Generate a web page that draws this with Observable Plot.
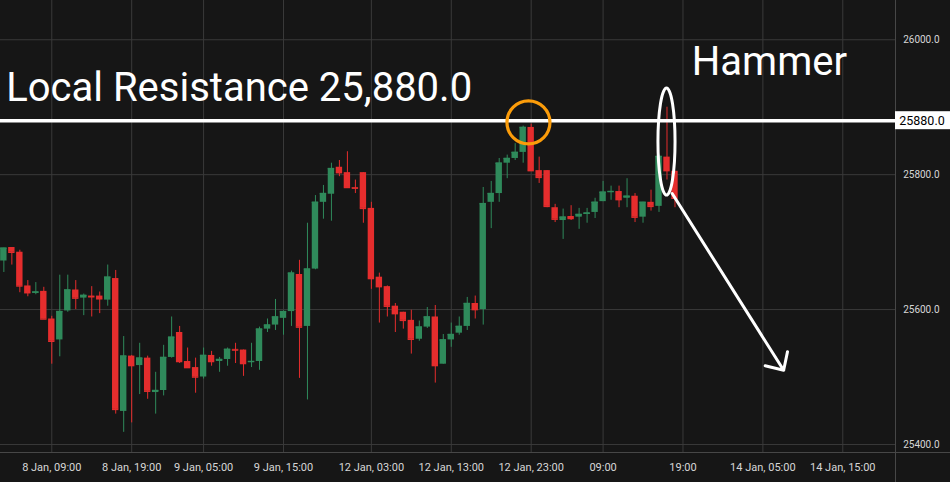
<!DOCTYPE html>
<html><head><meta charset="utf-8">
<script src="https://cdn.jsdelivr.net/npm/d3@7"></script>
<script src="https://cdn.jsdelivr.net/npm/@observablehq/plot@0.6"></script>
<style>
html,body{margin:0;padding:0;background:#161616;overflow:hidden;}
svg{display:block;}
</style></head><body><div id="chart"></div>
<script>
// Hourly candles (index 0 = first bar on 8 Jan)
const opens  = [25672,25692,25685,25635,25624,25627,25586,25555,25598,25629,25617,25620,25620,25614,25646,25449,25531,25517,25528,25477,25480,25529,25566,25523,25514,25500,25532,25523,25526,25541,25540,25522,25523,25571,25577,25587,25597,25652,25575,25660,25759,25771,25811,25803,25781,25803,25750,25648,25634,25605,25596,25584,25556,25574,25589,25519,25555,25565,25575,25609,25600,25759,25772,25817,25824,25833,25870,25806,25806,25751,25732,25738,25737,25741,25744,25760,25774,25775,25765,25768,25737,25759,25753,25826,25805];
const highs  = [25691,25692,25688,25643,25640,25633,25590,25651,25651,25643,25623,25634,25626,25666,25658,25560,25532,25550,25531,25507,25547,25589,25575,25543,25528,25543,25538,25529,25543,25550,25540,25550,25574,25586,25615,25598,25657,25673,25728,25769,25784,25817,25821,25834,25792,25803,25759,25654,25635,25609,25596,25599,25583,25603,25606,25563,25580,25589,25618,25620,25781,25790,25824,25829,25846,25872,25875,25826,25806,25756,25749,25754,25750,25750,25765,25790,25783,25783,25794,25772,25759,25777,25829,25900,25805];
const lows   = [25655,25666,25625,25619,25622,25586,25519,25530,25596,25600,25591,25589,25594,25605,25445,25418,25432,25474,25467,25445,25472,25528,25520,25513,25476,25497,25516,25507,25516,25520,25501,25514,25510,25566,25569,25562,25575,25498,25466,25659,25734,25731,25797,25780,25772,25728,25630,25580,25589,25566,25571,25534,25553,25572,25491,25519,25544,25562,25569,25586,25577,25720,25759,25794,25821,25817,25806,25787,25751,25729,25704,25732,25719,25728,25735,25760,25762,25751,25751,25729,25728,25746,25744,25792,25751];
const closes = [25691,25685,25635,25625,25626,25586,25553,25597,25629,25617,25621,25619,25616,25648,25452,25531,25517,25528,25479,25480,25529,25559,25523,25514,25500,25532,25523,25526,25541,25540,25520,25523,25571,25577,25589,25597,25654,25574,25660,25759,25772,25809,25803,25781,25780,25750,25646,25634,25605,25594,25584,25556,25574,25589,25517,25555,25563,25575,25609,25600,25757,25772,25817,25824,25833,25870,25806,25796,25753,25734,25737,25735,25741,25743,25759,25774,25775,25763,25768,25737,25759,25753,25827,25806,25765];

// Time axis (bar index -> label)
const xTickIndex  = [6, 16, 25, 35, 46, 56, 66, 75, 85, 95, 105];
const xTickLabels = ["8 Jan, 09:00","8 Jan, 19:00","9 Jan, 05:00","9 Jan, 15:00","12 Jan, 03:00","12 Jan, 13:00","12 Jan, 23:00","09:00","19:00","14 Jan, 05:00","14 Jan, 15:00"];
const yTicks = [25400, 25600, 25800, 26000];

// Annotations (data coordinates)
const resistance = 25880;
const titleText  = ["Local Resistance 25,880.0"];
const titleX = [0.3], titleY = [25909];
const hammerText = ["Hammer"];
const hammerX = [86.1], hammerY = [25948];
const circleX = [65.66], circleY = [25877.5];
const hammerIndex = 83, hammerSpan = [25769, 25927.6], hammerHalfWidth = 1.07;
const arrowFrom = [83.65, 25772], arrowTo = [97.6, 25510];

const UP = "#2f8a5b", DOWN = "#e52d2d";
const candles = opens.map((o, i) => ({i, open: o, high: highs[i], low: lows[i], close: closes[i], color: closes[i] >= o ? UP : DOWN}));
const labelMap = new Map(xTickIndex.map((d, k) => [d, xTickLabels[k]]));

const chrome = (index, scales, values, dims) => {
  const g = d3.create("svg:g").attr("stroke", "#474747").attr("fill", "none");
  const right = dims.width - dims.marginRight, bottom = dims.height - dims.marginBottom;
  g.append("line").attr("x1", 0).attr("x2", dims.width).attr("y1", bottom + 0.5).attr("y2", bottom + 0.5);
  g.append("line").attr("x1", right + 0.5).attr("x2", right + 0.5).attr("y1", 0).attr("y2", dims.height);
  return g.node();
};
const priceTag = (index, scales, values, dims) => {
  const y = scales.y(resistance);
  const right = dims.width - dims.marginRight;
  const g = d3.create("svg:g");
  g.append("rect").attr("x", right).attr("y", y - 9).attr("width", dims.marginRight).attr("height", 18).attr("fill", "white");
  g.append("text").attr("x", right + 27).attr("y", y).attr("dy", "0.35em").attr("text-anchor", "middle")
    .attr("font-family", "Roboto, sans-serif").attr("font-size", 12.5).attr("fill", "black").text(resistance.toFixed(1));
  return g.node();
};
const ellipse = (index, scales) => {
  const cx = scales.x(hammerIndex);
  const yTop = scales.y(hammerSpan[1]), yBot = scales.y(hammerSpan[0]);
  const rx = scales.x(hammerIndex + hammerHalfWidth) - cx;
  return d3.create("svg:ellipse").attr("cx", cx).attr("cy", (yTop + yBot) / 2).attr("rx", rx).attr("ry", (yBot - yTop) / 2)
    .attr("fill", "none").attr("stroke", "white").attr("stroke-width", 3).node();
};

const chart = Plot.plot({
  width: 950, height: 482,
  marginTop: 0, marginRight: 55, marginBottom: 30, marginLeft: 0,
  style: {background: "#161616", color: "#d6d6d6", fontFamily: "Roboto, sans-serif", fontSize: "11px"},
  x: {type: "linear", domain: [-0.42, 111.6]},
  y: {domain: [25388.1, 26058.2]},
  color: {type: "identity"},
  marks: [
    Plot.gridX(xTickIndex, {stroke: "#3a3a3a", strokeOpacity: 1}),
    Plot.gridY(yTicks, {stroke: "#3a3a3a", strokeOpacity: 1}),
    Plot.axisX(xTickIndex, {tickSize: 0, tickPadding: 11, tickFormat: d => labelMap.get(d), fill: "#d6d6d6"}),
    Plot.axisY(yTicks, {anchor: "right", tickSize: 0, tickPadding: 44, textAnchor: "end", fontSize: 10, tickFormat: d => d.toFixed(1), fill: "#d6d6d6"}),
    chrome,
    Plot.ruleX(candles, {x: "i", y1: "low", y2: "high", stroke: "color", strokeWidth: 1}),
    Plot.rect(candles, {x1: d => d.i - 0.4, x2: d => d.i + 0.4, y1: "open", y2: "close", fill: "color"}),
    Plot.ruleY(candles, {x1: d => d.i - 0.4, x2: d => d.i + 0.4, y: "close", stroke: "color", strokeWidth: 1.5}),
    Plot.ruleY([resistance], {stroke: "white", strokeWidth: 3.5}),
    priceTag,
    Plot.dot(circleX.map((x, k) => ({x, y: circleY[k]})), {x: "x", y: "y", r: 21.5, stroke: "#fb9c0a", strokeWidth: 3.2, fill: "none"}),
    ellipse,
    Plot.arrow([{x1: arrowFrom[0], y1: arrowFrom[1], x2: arrowTo[0], y2: arrowTo[1]}], {x1: "x1", y1: "y1", x2: "x2", y2: "y2", stroke: "white", strokeWidth: 3, headLength: 9.5, headAngle: 88}),
    Plot.text(titleText.map((t, k) => ({t, x: titleX[k], y: titleY[k]})), {x: "x", y: "y", text: "t", textAnchor: "start", lineAnchor: "bottom", fontSize: 40, fill: "white", fontFamily: "Roboto, sans-serif"}),
    Plot.text(hammerText.map((t, k) => ({t, x: hammerX[k], y: hammerY[k]})), {x: "x", y: "y", text: "t", textAnchor: "start", lineAnchor: "bottom", fontSize: 40, fill: "white", fontFamily: "Roboto, sans-serif"})
  ]
});
document.getElementById("chart").appendChild(chart);
</script></body></html>
